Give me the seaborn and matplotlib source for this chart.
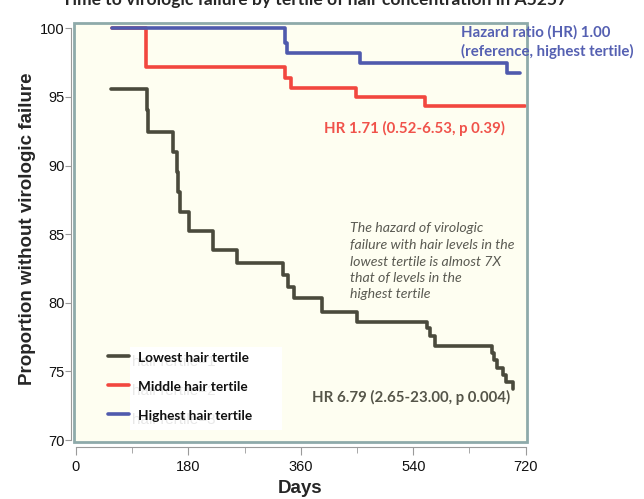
import pandas as pd
import numpy as np
import seaborn as sns
import matplotlib.pyplot as plt
from matplotlib.patches import Rectangle
from matplotlib.ticker import MultipleLocator

# step points (day, proportion)
low_days = [55.6, 113.2, 114.8, 155.8, 161.2, 163.8, 166.5, 181.4, 218.9, 257.3,
            331.9, 339.9, 349.5, 393.4, 450.4, 561.5, 566.8, 574.8, 665.5, 669.7,
            673.6, 684.1, 688.5, 700.2]
low_vals = [95.55, 94.04, 92.46, 91.0, 89.55, 88.09, 86.63, 85.25, 83.84, 82.87,
            82.02, 81.12, 80.32, 79.34, 78.62, 78.13, 77.56, 76.86, 76.31, 75.82,
            75.22, 74.73, 74.24, 73.69]
mid_days = [57, 112, 334.6, 344, 447.8, 558.8, 719]
mid_vals = [100, 97.16, 96.36, 95.63, 94.97, 94.34, 94.34]
high_days = [57, 334.6, 338, 454.7, 689.6, 711]
high_vals = [100, 98.9, 98.18, 97.45, 96.72, 96.72]

groups = ['Lowest hair tertile', 'Middle hair tertile', 'Highest hair tertile']
ghosts = ['hairTertile=1', 'hairTertile=2', 'hairTertile=3']
colors = ['#4a4a3c', '#f2473f', '#4f5aad']

df = pd.concat([
    pd.DataFrame({'day': low_days, 'prop': low_vals, 'tertile': groups[0]}),
    pd.DataFrame({'day': mid_days, 'prop': mid_vals, 'tertile': groups[1]}),
    pd.DataFrame({'day': high_days, 'prop': high_vals, 'tertile': groups[2]}),
])

sns.set_style('white')
plt.rcParams['font.family'] = ['Liberation Sans', 'DejaVu Sans']

fig = plt.figure(figsize=(6.44, 4.99), dpi=100)
ax = fig.add_axes([74 / 644, 1 - 441.7 / 499, 453 / 644, 418.4 / 499])
ax.set_facecolor('#fefef1')

sns.lineplot(data=df, x='day', y='prop', hue='tertile', hue_order=groups,
             palette=colors, drawstyle='steps-post', estimator=None, sort=False,
             linewidth=2.6, legend=False, ax=ax)

ax.set_xlim(-3.2, 722.1)
ax.set_ylim(69.88, 100.36)
ax.xaxis.set_major_locator(MultipleLocator(180))
ax.xaxis.set_minor_locator(MultipleLocator(90))
ax.yaxis.set_major_locator(MultipleLocator(5))

for s in ['top', 'right']:
    ax.spines[s].set_visible(False)
ax.spines['left'].set_position(('outward', 2))
ax.spines['bottom'].set_position(('outward', 3.5))
for s in ['left', 'bottom']:
    ax.spines[s].set_color('#9a9a9a')
    ax.spines[s].set_linewidth(0.8)
ax.spines['left'].set_bounds(70, 100)
ax.spines['bottom'].set_bounds(0, 720)
ax.tick_params(axis='both', which='both', direction='out', color='#9a9a9a',
               labelsize=10.5, labelcolor='#111111')
ax.tick_params(axis='y', length=4, pad=1)
ax.tick_params(axis='x', which='major', length=6, pad=4)
ax.tick_params(axis='x', which='minor', length=4)
ax.tick_params(left=True, bottom=True, which='both')

ax.add_patch(Rectangle((0, 0), 1, 1, transform=ax.transAxes, fill=False,
                       edgecolor='#8eaaaa', linewidth=2, clip_on=False, zorder=5))

ax.set_xlabel('Days', fontsize=13.5, fontweight='bold', labelpad=4)
ax.set_ylabel('Proportion without virologic failure', fontsize=13.5,
              fontweight='bold')
ax.yaxis.set_label_coords(-0.083, 0.51)

fig.text(0.488, 1.0, 'Time to virologic failure by tertile of hair concentration in A5257',
         ha='center', va='center', fontsize=12.6, fontweight='bold', family='Lato')

# annotations
fig.text(461 / 644, 1 - 42 / 499, 'Hazard ratio (HR) 1.00\n(reference, highest tertile)',
         ha='left', va='center', fontsize=10.8, fontweight='bold', color='#5560b2',
         family='Lato', linespacing=1.3)
fig.text(505 / 644, 1 - 128.3 / 499, 'HR 1.71 (0.52-6.53, p 0.39)', ha='right',
         va='center', fontsize=10.8, fontweight='bold', color='#f0524a', family='Lato')
fig.text(350 / 644, 1 - 261.5 / 499,
         'The hazard of virologic\nfailure with hair levels in the\nlowest tertile is almost 7X\n'
         'that of levels in the\nhighest tertile',
         ha='left', va='center', fontsize=10.2, style='italic', color='#5a5a52',
         family='Lato', linespacing=1.45)
fig.text(510 / 644, 1 - 397 / 499, 'HR 6.79 (2.65-23.00, p 0.004)', ha='right',
         va='center', fontsize=10.8, fontweight='bold', color='#555549', family='Lato')

# legend drawn by hand: white box behind labels
fig.patches.append(Rectangle((130 / 644, 1 - 430 / 499), 152 / 644, 83 / 499,
                             transform=fig.transFigure, facecolor='white',
                             edgecolor='none', zorder=6))
for i, (g, gh, c) in enumerate(zip(groups, ghosts, colors)):
    yy = 1 - (358 + 29 * i) / 499
    fig.add_artist(plt.Line2D([108 / 644, 129 / 644], [yy + 2 / 499, yy + 2 / 499],
                              color=c, linewidth=2.6, transform=fig.transFigure,
                              zorder=7))
    fig.text(132 / 644, yy - 4 / 499, gh, ha='left', va='center', fontsize=11,
             color='#e8e8e8', zorder=7)
    fig.text(138 / 644, yy, g, ha='left', va='center', fontsize=9.8,
             fontweight='bold', color='#111111', family='Lato', zorder=8)

plt.savefig('out.png', dpi=100)
